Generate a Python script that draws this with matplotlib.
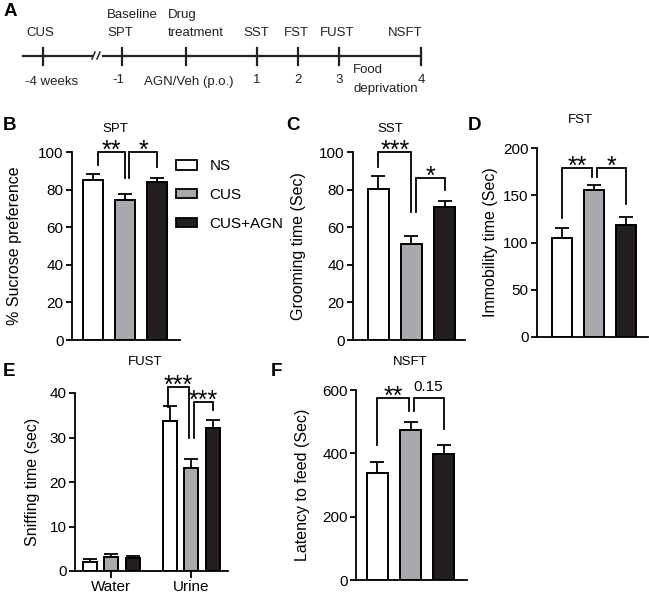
import matplotlib
matplotlib.use("Agg")
import matplotlib.pyplot as plt
from matplotlib.patches import Patch
import numpy as np

plt.rcParams['font.family'] = ['Liberation Sans', 'DejaVu Sans']
plt.rcParams['axes.linewidth'] = 1.3

# ---------------- data ----------------
groups = ["NS", "CUS", "CUS+AGN"]
colors = ["#ffffff", "#a7a9ac", "#231f20"]

spt_mean = [85.0, 74.5, 84.3]
spt_err = [3.2, 3.0, 1.8]

sst_mean = [80.3, 51.0, 70.7]
sst_err = [7.0, 4.5, 3.0]

fst_mean = [105.0, 155.5, 118.5]
fst_err = [10.5, 5.5, 8.5]

fust_cats = ["Water", "Urine"]
fust_mean = {"NS": [2.0, 33.7], "CUS": [3.2, 23.1], "CUS+AGN": [2.9, 32.1]}
fust_err = {"NS": [0.7, 3.4], "CUS": [0.6, 2.1], "CUS+AGN": [0.5, 1.8]}

nsft_mean = [337, 474, 398]
nsft_err = [36, 25, 28]

# significance brackets: (x_left, x_right, top, left_leg_bottom, right_leg_bottom, label)
spt_sig = [(0.16, 1.0, 100, 93, 86, "**"), (1.13, 2.0, 100, 86, 92, "*")]
sst_sig = [(0.0, 1.0, 100, 92, 68, "***"), (1.15, 2.0, 86, 68, 80, "*")]
fst_sig = [(0.0, 0.94, 179, 126, 169, "**"), (1.1, 2.0, 179, 169, 141, "*")]
fust_sig = [(0.71, 0.975, 41.3, 36.9, 29.9, "***"), (1.04, 1.27, 38, 30, 36.2, "***")]
nsft_sig = [(0.0, 0.94, 575, 426, 534, "**"), (1.1, 2.0, 575, 534, 477, "0.15")]

W, H = 649, 596
fig = plt.figure(figsize=(W / 100, H / 100), dpi=100)


def px_axes(left, right, top, bottom):
    return fig.add_axes([left / W, 1 - bottom / H, (right - left) / W, (bottom - top) / H])


def style(ax):
    for s in ["top", "right"]:
        ax.spines[s].set_visible(False)
    ax.tick_params(axis="y", direction="out", length=4.5, width=1.3, labelsize=11, pad=1.5)
    ax.tick_params(axis="x", length=0)
    ax.set_xticks([])


def sig(ax, items):
    for x1, x2, top, b1, b2, lab in items:
        ax.plot([x1, x1, x2, x2], [b1, top, top, b2], color="black", lw=1.3,
                clip_on=False, solid_joinstyle="miter")
        if lab.startswith("*"):
            ax.annotate(lab, ((x1 + x2) / 2, top), xytext=(0, -4), textcoords="offset points",
                        ha="center", va="baseline", fontsize=18, annotation_clip=False)
        else:
            ax.annotate(lab, ((x1 + x2) / 2, top), xytext=(0, 3), textcoords="offset points",
                        ha="center", va="bottom", fontsize=11, annotation_clip=False)


def bar3(ax, means, errs, width, xlim, ylim, yticks):
    x = np.arange(3)
    ax.errorbar(x, means, yerr=[np.zeros(3), errs], fmt="none", ecolor="black",
                elinewidth=1.3, capsize=5, capthick=1.3, zorder=1)
    ax.bar(x, means, width=width, color=colors, edgecolor="black", linewidth=1.4, zorder=2)
    ax.set_xlim(*xlim)
    ax.set_ylim(*ylim)
    ax.set_yticks(yticks)
    style(ax)


def ylab(ax, text, xc_px, left_px, right_px):
    ax.set_ylabel(text, fontsize=11.5, va="center")
    ax.yaxis.set_label_coords((xc_px - left_px) / (right_px - left_px), 0.5)


# ---------------- panel B ----------------
axB = px_axes(72, 180, 152, 340)
bar3(axB, spt_mean, spt_err, 0.62, (-0.66, 2.72), (0, 100), [0, 20, 40, 60, 80, 100])
sig(axB, spt_sig)
ylab(axB, "% Sucrose preference", 14, 72, 180)
axB.text(0.40, 1.12, "SPT", transform=axB.transAxes, ha="center", va="center", fontsize=9.5)
handles = [Patch(facecolor=c, edgecolor="black", linewidth=1.3) for c in colors]
axB.legend(handles, groups, loc="center left", bbox_to_anchor=(176 / W, 1 - 195 / H),
           bbox_transform=fig.transFigure, frameon=False, fontsize=11,
           handlelength=1.4, handleheight=0.55, labelspacing=0.95, handletextpad=0.8,
           borderpad=0, borderaxespad=0)

# ---------------- panel C ----------------
axC = px_axes(353, 465, 152, 340)
bar3(axC, sst_mean, sst_err, 0.62, (-0.77, 2.62), (0, 100), [0, 20, 40, 60, 80, 100])
sig(axC, sst_sig)
ylab(axC, "Grooming time (Sec)", 299, 353, 465)
axC.text((390 - 353) / 112, 1.12, "SST", transform=axC.transAxes, ha="center", va="center", fontsize=9.5)

# ---------------- panel D ----------------
axD = px_axes(537, 648, 148, 337)
bar3(axD, fst_mean, fst_err, 0.63, (-0.78, 2.69), (0, 200), [0, 50, 100, 150, 200])
sig(axD, fst_sig)
ylab(axD, "Immobility time (Sec)", 491, 537, 648)
axD.text((580 - 537) / 111, (337 - 120) / (337 - 148), "FST", transform=axD.transAxes,
         ha="center", va="center", fontsize=9.5)

# ---------------- panel E ----------------
axE = px_axes(75, 228, 393, 571)
xg = np.arange(len(fust_cats))
offs = [-0.265, 0.0, 0.27]
for g, c, o in zip(groups, colors, offs):
    axE.errorbar(xg + o, fust_mean[g], yerr=[np.zeros(2), fust_err[g]], fmt="none",
                 ecolor="black", elinewidth=1.3, capsize=5, capthick=1.3, zorder=1)
    axE.bar(xg + o, fust_mean[g], width=0.175, color=c, edgecolor="black", linewidth=1.4, zorder=2)
axE.set_xlim(-0.45, 1.46)
axE.set_ylim(0, 40)
axE.set_yticks([0, 10, 20, 30, 40])
style(axE)
axE.set_xticks(xg)
axE.set_xticklabels(fust_cats, fontsize=11)
axE.tick_params(axis="x", direction="out", length=5, width=1.3, pad=1.5)
sig(axE, fust_sig)
ylab(axE, "Sniffing time (sec)", 33, 75, 228)
axE.text((145 - 75) / 153, (571 - 362) / (571 - 393), "FUST", transform=axE.transAxes,
         ha="center", va="center", fontsize=9.5)

# ---------------- panel F ----------------
axF = px_axes(356, 467, 390, 580)
bar3(axF, nsft_mean, nsft_err, 0.62, (-0.65, 2.71), (0, 600), [0, 200, 400, 600])
sig(axF, nsft_sig)
ylab(axF, "Latency to feed (Sec)", 302, 356, 467)
axF.text((410 - 356) / 111, (580 - 362) / (580 - 390), "NSFT", transform=axF.transAxes,
         ha="center", va="center", fontsize=9.5)

# ---------------- overlay: panel A timeline + letters ----------------
ov = fig.add_axes([0, 0, 1, 1], zorder=-1)
ov.set_xlim(0, W)
ov.set_ylim(H, 0)
ov.axis("off")

line_y = 56
ov.plot([23, 92], [line_y, line_y], color="#222", lw=1.6)
ov.plot([103, 421], [line_y, line_y], color="#222", lw=1.6)
for sx in (93.5, 98.5):
    ov.plot([sx - 1.5, sx + 1.5], [line_y + 3, line_y - 4], color="#222", lw=1.1)
for tx in [43, 122, 186, 257, 298, 339, 421]:
    ov.plot([tx, tx], [48, 65], color="#222", lw=1.6)

fsA = 9.5
above = [("CUS", 40, 33, "center"), ("Baseline", 107, 15, "left"), ("SPT", 107, 33, "left"),
         ("Drug", 168, 15, "left"), ("treatment", 168, 33, "left"), ("SST", 256, 33, "center"),
         ("FST", 296, 33, "center"), ("FUST", 337, 33, "center"), ("NSFT", 405, 33, "center")]
below = [("-4 weeks", 52, 82, "center"), ("-1", 118, 80, "center"), ("AGN/Veh (p.o.)", 189, 82, "center"),
         ("1", 257, 80, "center"), ("2", 298, 80, "center"), ("3", 339, 80, "center"),
         ("Food", 353, 70, "left"), ("deprivation", 353, 89, "left"), ("4", 421, 80, "center")]
for t, x, y, ha in above + below:
    ov.text(x, y, t, ha=ha, va="center", fontsize=fsA, color="#222")

for L, x, y in [("A", 4, 11), ("B", 3, 126), ("C", 286, 126), ("D", 468, 126), ("E", 3, 372), ("F", 271, 372)]:
    ov.text(x, y, L, ha="left", va="center", fontsize=13.5, fontweight="bold")

fig.savefig("out.png", dpi=100)
